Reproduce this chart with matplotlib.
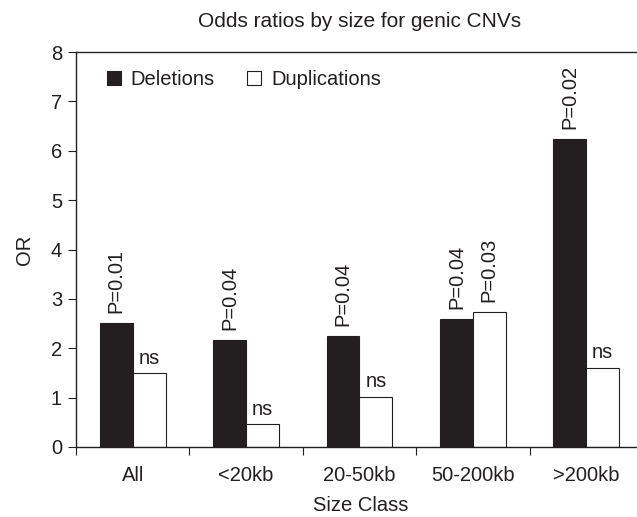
import matplotlib
matplotlib.use("Agg")
import matplotlib.pyplot as plt
from matplotlib.patches import Patch
import numpy as np

plt.rcParams['font.family'] = ['Liberation Sans', 'DejaVu Sans']

categories = ["All", "<20kb", "20-50kb", "50-200kb", ">200kb"]
deletions = [2.52, 2.17, 2.25, 2.60, 6.24]
duplications = [1.49, 0.46, 1.02, 2.73, 1.61]
del_labels = ["P=0.01", "P=0.04", "P=0.04", "P=0.04", "P=0.02"]
dup_labels = ["ns", "ns", "ns", "P=0.03", "ns"]

FS = 14.5
fig = plt.figure(figsize=(6.37, 5.17), dpi=100)
ax = fig.add_axes([76/637, 1-447/517, 567/637, 395/517])

x = np.arange(len(categories))
w = 0.29
dark = "#231f20"
ax.bar(x - w/2, deletions, w, color=dark, edgecolor=dark, linewidth=0.8, label="Deletions")
ax.bar(x + w/2, duplications, w, color="white", edgecolor=dark, linewidth=0.8, label="Duplications")

for xi, v, t in zip(x, deletions, del_labels):
    ax.annotate(t, (xi - w/2, v), xytext=(0, 7), textcoords="offset points",
                rotation=90, ha="center", va="bottom", fontsize=FS, color=dark)
for xi, v, t in zip(x, duplications, dup_labels):
    rot = 90 if t.startswith("P") else 0
    off = 7 if rot else 4
    ax.annotate(t, (xi + w/2, v), xytext=(0, off), textcoords="offset points",
                rotation=rot, ha="center", va="bottom", fontsize=FS, color=dark)

ax.set_xlim(-0.5, len(categories) - 0.5)
ax.set_ylim(0, 8)
ax.set_yticks(range(0, 9))
ax.set_xticks(np.arange(-0.5, len(categories), 1.0))
ax.set_xticklabels([])
ax.set_xticks(x, minor=True)
ax.set_xticklabels(categories, minor=True)
ax.tick_params(axis="x", which="minor", length=0, pad=14, labelsize=FS, colors=dark)
ax.tick_params(axis="x", which="major", length=6, width=0.8, direction="out", colors=dark)
ax.tick_params(axis="y", length=6, width=0.8, direction="out", labelsize=FS, pad=4, colors=dark)

for s in ["left", "bottom", "top"]:
    ax.spines[s].set_color(dark)
    ax.spines[s].set_linewidth(1.0)
ax.spines["right"].set_visible(False)

ax.set_ylabel("OR", fontsize=FS, color=dark, labelpad=12)
fig.text(361/637, 1 - 511/517, "Size Class", ha="center", va="baseline",
         fontsize=FS, color=dark)
fig.text(360/637, 0.959, "Odds ratios by size for genic CNVs", ha="center", va="center",
         fontsize=15, color=dark)

handles = [Patch(facecolor=dark, edgecolor=dark, linewidth=0.8, label="Deletions"),
           Patch(facecolor="white", edgecolor=dark, linewidth=0.8, label="Duplications")]
ax.legend(handles=handles, loc="upper left", ncol=2, frameon=False, fontsize=FS,
          handlelength=0.7, handleheight=0.7, handletextpad=0.5, columnspacing=1.6,
          bbox_to_anchor=(0.022, 1.0), labelcolor=dark)

fig.savefig("out.png", dpi=100)
